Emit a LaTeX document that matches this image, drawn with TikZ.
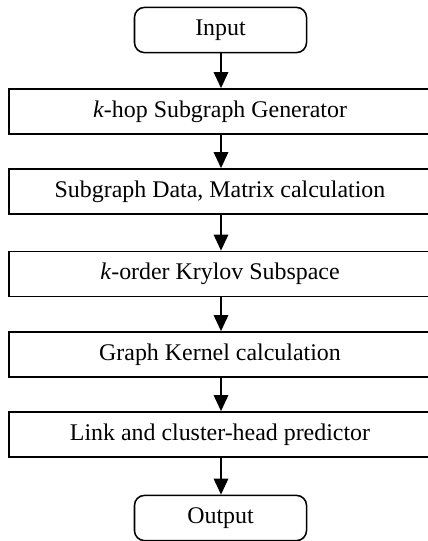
\documentclass[tikz,border=0pt]{standalone}
\usepackage{fontspec}
\setmainfont{Liberation Serif}
\usepackage{tikz}
\usetikzlibrary{arrows.meta}

\begin{document}
\begin{tikzpicture}[
    x=0.025cm, y=-0.025cm,
    font=\fontsize{17}{20}\selectfont,
    % Node styles
    terminal/.style={draw=black, line width=1.1pt, rounded corners=0.25cm, minimum width=4.3cm, minimum height=1.13cm, inner sep=0pt},
    stage/.style={draw=black, line width=1.1pt, minimum width=10.55cm, minimum height=1.13cm, inner sep=0pt},
    % Connectors
    flow/.style={line width=1.4pt, -{Triangle[width=0.36cm, length=0.4cm]}, draw=black}
]
    \useasboundingbox (0,0) rectangle (428,541);
    \clip (0,0) rectangle (428,541);

    % --- Start / end ---
    \node[terminal] (input) at (220.5, 30) {Input};
    \node[terminal] (output) at (220.5, 518) {Output};

    % --- Processing stages ---
    \node[stage] (khop) at (220, 111.5) {\textit{k}-hop Subgraph Generator};
    \node[stage] (subdata) at (220, 191.5) {Subgraph Data, Matrix calculation};
    \node[stage] (krylov) at (220, 274) {\textit{k}-order Krylov Subspace};
    \node[stage] (kernel) at (220, 354.5) {Graph Kernel calculation};
    \node[stage] (predictor) at (220, 434.5) {Link and cluster-head predictor};

    % --- Arrows down the chain ---
    \foreach \a/\b in {input/khop, khop/subdata, subdata/krylov, krylov/kernel, kernel/predictor, predictor/output} {
        \draw[flow] (\a.south -| 221,0) -- (\b.north -| 221,0);
    }

\end{tikzpicture}
\end{document}
